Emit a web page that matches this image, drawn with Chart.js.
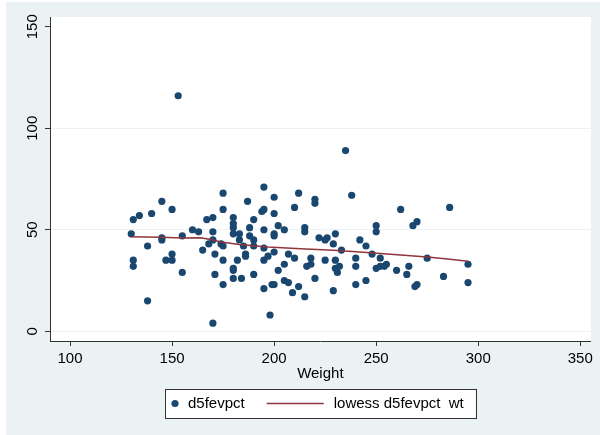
<!DOCTYPE html>
<html>
<head>
<meta charset="utf-8">
<script src="https://cdn.jsdelivr.net/npm/chart.js@4"></script>
<style>
  html, body { margin: 0; padding: 0; background: #fff; }
  #wrap { width: 600px; height: 435px; position: relative; }
</style>
</head>
<body>
<div id="wrap"><canvas id="c" width="600" height="435"></canvas></div>
<script>
// Observations: body weight and 5-year FEV change (%)
const weight = [
  131, 134, 140, 145, 150, 130, 145, 145, 138, 131, 131, 147, 150, 150, 155, 155, 138,
  160, 163, 165, 167, 170, 170, 168, 170, 171, 171, 170, 174, 175, 175, 175, 175, 175,
  180, 180, 180, 180, 183, 183, 180, 180, 180, 182, 184, 185, 186, 186, 187, 188, 188,
  190, 190, 190, 190, 195, 195, 194, 195, 195, 195, 197, 195, 198, 199, 200, 200, 200,
  200, 200, 200, 202, 202, 205, 205, 205, 207, 207, 210, 212, 210, 212, 209, 215, 215,
  216, 218, 218, 215, 220, 220, 220, 222, 153, 235, 238, 225, 226, 230, 229, 233, 225,
  230, 230, 231, 232, 229, 240, 240, 240, 242, 245, 245, 248, 250, 250, 252, 250, 252,
  254, 255, 262, 260, 265, 266, 268, 270, 269, 270, 275, 283, 286, 295, 295
];
const d5fevpct = [
  55, 57, 58, 64, 60, 48, 46, 45, 42, 35, 32, 35, 38, 35, 47, 29, 15,
  50, 49, 40, 55, 56, 49, 43, 45, 38, 28, 4, 43, 42, 35, 23, 60, 68,
  56, 53, 51, 48, 48, 45, 31, 30, 26, 35, 26, 42, 38, 37, 64, 51, 47,
  55, 45, 42, 28, 71, 60, 59, 50, 41, 35, 37, 21, 8, 23, 23, 66, 58,
  48, 47, 39, 52, 30, 50, 33, 25, 24, 38, 61, 68, 36, 22, 19, 51, 49,
  32, 33, 36, 17, 65, 63, 26, 46, 116, 89, 67, 45, 46, 48, 43, 40, 35,
  35, 31, 29, 32, 20, 36, 32, 23, 45, 42, 25, 38, 52, 49, 36, 31, 32,
  32, 33, 60, 30, 28, 32, 52, 54, 22, 23, 36, 27, 61, 33, 24
];

// Smoothed (lowess) fit of d5fevpct on weight
const lowessWeight = [130, 145, 155, 164, 170, 174, 183, 197, 213, 229, 242, 262, 275, 285, 295];
const lowessFit    = [46.5, 46.3, 45.9, 46.0, 45.0, 44.0, 42.7, 41.5, 40.7, 39.9, 39.1, 37.6, 36.6, 35.6, 34.5];

const xTicks = [100, 150, 200, 250, 300, 350];
const yTicks = [0, 50, 100, 150];
const seriesLabels = ['d5fevpct', 'lowess d5fevpct  wt'];
const xTitle = 'Weight';

const NAVY = '#1a476f';
const MAROON = '#90353b';
const REGION = '#eaf2f3';
const AXIS = '#333333';
const FONT = { family: '"Liberation Sans", Arial, sans-serif', size: 15 };

const scatterPoints = weight.map((w, i) => ({ x: w, y: d5fevpct[i] }));
const fitPoints = lowessWeight.map((w, i) => ({ x: w, y: lowessFit[i] }));

// Graph region and white plot region behind everything
const backgroundPlugin = {
  id: 'regions',
  beforeDraw(chart) {
    const { ctx, chartArea: a } = chart;
    ctx.save();
    ctx.fillStyle = '#ffffff';
    ctx.fillRect(0, 0, chart.width, chart.height);
    ctx.fillStyle = REGION;
    ctx.fillRect(6, 2, chart.width - 6, chart.height - 2);
    ctx.fillStyle = '#ffffff';
    ctx.fillRect(a.left, a.top, a.right - a.left, a.bottom - a.top);
    ctx.restore();
  }
};

// Boxed legend centred under the x-axis title
const boxedLegend = {
  id: 'boxedLegend',
  afterDraw(chart) {
    const { ctx, chartArea: a } = chart;
    const ds = chart.data.datasets;
    ctx.save();
    ctx.font = `${FONT.size}px ${FONT.family}`;
    const w1 = ctx.measureText(ds[0].label).width;
    const w2 = ctx.measureText(ds[1].label).width;
    const lineLen = 57;
    const boxW = 23 + w1 + 22 + lineLen + 10 + w2 + 12;
    const boxH = 29;
    const left = Math.round((a.left + a.right) / 2 - boxW / 2);
    const top = 389;
    const midY = top + boxH / 2;

    ctx.fillStyle = '#ffffff';
    ctx.fillRect(left, top, boxW, boxH);
    ctx.strokeStyle = AXIS;
    ctx.lineWidth = 1;
    ctx.strokeRect(left + 0.5, top + 0.5, Math.round(boxW), boxH);

    ctx.fillStyle = ds[0].backgroundColor;
    ctx.beginPath();
    ctx.arc(left + 10, midY, 3.6, 0, Math.PI * 2);
    ctx.fill();

    ctx.fillStyle = '#000';
    ctx.textBaseline = 'middle';
    ctx.textAlign = 'left';
    ctx.fillText(ds[0].label, left + 23, midY);

    const lx = left + 23 + w1 + 22;
    ctx.strokeStyle = ds[1].borderColor;
    ctx.lineWidth = 1.5;
    ctx.beginPath();
    ctx.moveTo(lx, midY);
    ctx.lineTo(lx + lineLen, midY);
    ctx.stroke();

    ctx.fillStyle = '#000';
    ctx.fillText(ds[1].label, lx + lineLen + 10, midY);
    ctx.restore();
  }
};

new Chart(document.getElementById('c'), {
  type: 'scatter',
  data: {
    datasets: [
      {
        label: seriesLabels[0],
        data: scatterPoints,
        backgroundColor: NAVY,
        borderWidth: 0,
        pointRadius: 3.6,
        order: 2
      },
      {
        type: 'line',
        label: seriesLabels[1],
        data: fitPoints,
        borderColor: MAROON,
        backgroundColor: MAROON,
        borderWidth: 1.5,
        pointRadius: 0,
        tension: 0,
        fill: false,
        order: 1
      }
    ]
  },
  options: {
    responsive: false,
    animation: false,
    devicePixelRatio: 1,
    layout: { padding: { left: 0, right: 9.3, top: 17, bottom: 52 } },
    plugins: {
      legend: { display: false },
      tooltip: { enabled: false }
    },
    scales: {
      x: {
        type: 'linear',
        min: 90.2,
        max: 355.1,
        afterBuildTicks: s => { s.ticks = xTicks.map(v => ({ value: v })); },
        afterFit: s => { s.height = 42; },
        border: { color: AXIS, width: 1 },
        grid: { drawOnChartArea: false, drawTicks: true, tickLength: 5, tickColor: AXIS },
        ticks: { font: FONT, color: '#000', padding: 4, maxRotation: 0, autoSkip: false },
        title: { display: true, text: xTitle, font: FONT, color: '#000', padding: { top: 0, bottom: 0 } }
      },
      y: {
        type: 'linear',
        min: -4.8,
        max: 154.8,
        afterBuildTicks: s => { s.ticks = yTicks.map(v => ({ value: v })); },
        afterFit: s => { s.width = 50; },
        border: { color: AXIS, width: 1 },
        grid: {
          color: c => (c.tick && c.tick.value < 150 ? REGION : 'rgba(0,0,0,0)'),
          lineWidth: 1,
          drawTicks: true,
          tickLength: 5,
          tickColor: AXIS
        },
        ticks: {
          font: FONT,
          color: '#000',
          padding: 0,
          minRotation: 90,
          maxRotation: 90,
          crossAlign: 'center',
          autoSkip: false
        }
      }
    }
  },
  plugins: [backgroundPlugin, boxedLegend]
});
</script>
</body>
</html>
